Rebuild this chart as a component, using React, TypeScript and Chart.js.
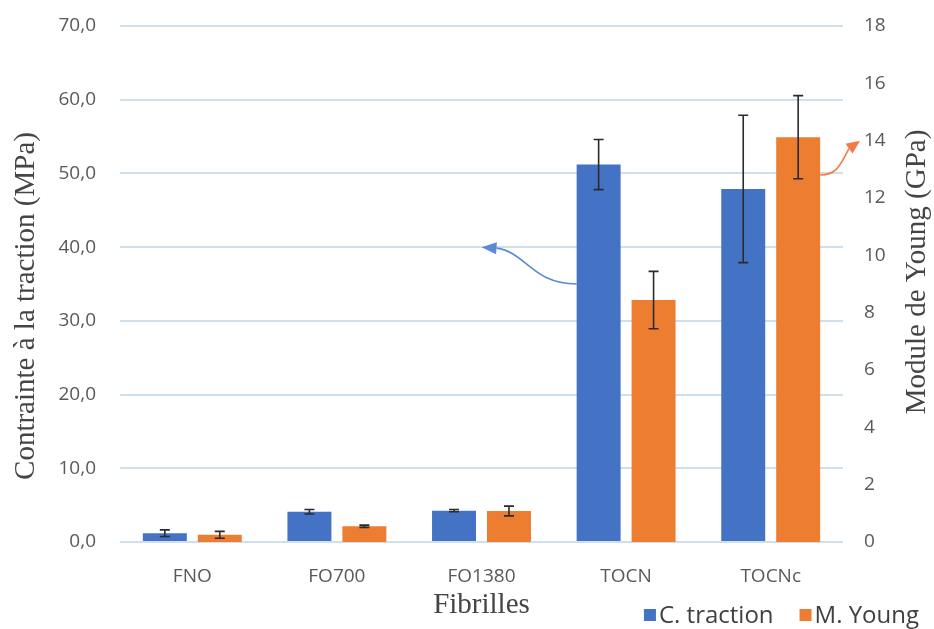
import React, { useEffect, useRef } from 'react';
import { Chart, registerables } from 'chart.js';

Chart.register(...registerables);

const categories = ['FNO', 'FO700', 'FO1380', 'TOCN', 'TOCNc'];
const tractionValues = [1.2, 4.1, 4.25, 51.2, 47.9];
const tractionErrors = [0.45, 0.3, 0.15, 3.4, 10.0];
const youngValues = [0.25, 0.55, 1.08, 8.44, 14.12];
const youngErrors = [0.12, 0.04, 0.17, 1.0, 1.45];
const seriesLabels = ['C. traction', 'M. Young'];
const seriesColors = ['#4472C4', '#ED7D31'];
const arrowColors = ['#5b8bd6', '#f07c45'];
const leftTitle = 'Contrainte à la traction (MPa)';
const rightTitle = 'Module de Young (GPa)';
const xTitle = 'Fibrilles';
// annotation arrows (values): blue arrow from TOCN bar at 35 MPa to 40 MPa; orange from TOCNc bar at 12.8 GPa to 14 GPa
const blueArrowFrom = 35;
const blueArrowTo = 40;
const orangeArrowFrom = 12.8;
const orangeArrowTo = 14;

const SANS = "'Open Sans', 'Noto Sans', sans-serif";
const SERIF = "'Liberation Serif', 'DejaVu Serif', serif";

const errorBarPlugin = {
  id: 'errorBars',
  afterDatasetsDraw(chart: any) {
    const ctx = chart.ctx;
    const errs = [tractionErrors, youngErrors];
    ctx.save();
    ctx.strokeStyle = '#2b2b2b';
    ctx.lineWidth = 1.6;
    chart.data.datasets.forEach((ds: any, i: number) => {
      const meta = chart.getDatasetMeta(i);
      const scale = chart.scales[ds.yAxisID];
      meta.data.forEach((el: any, j: number) => {
        const v = ds.data[j];
        const e = errs[i][j];
        const yt = scale.getPixelForValue(v + e);
        const yb = scale.getPixelForValue(Math.max(0, v - e));
        const x = el.x;
        const cw = 5;
        ctx.beginPath();
        ctx.moveTo(x, yt);
        ctx.lineTo(x, yb);
        ctx.moveTo(x - cw, yt);
        ctx.lineTo(x + cw, yt);
        ctx.moveTo(x - cw, yb);
        ctx.lineTo(x + cw, yb);
        ctx.stroke();
      });
    });
    ctx.restore();
  },
};

function drawArrow(ctx: any, sx: number, sy: number, c1x: number, c1y: number, c2x: number, c2y: number, bx: number, by: number, tx: number, ty: number, color: string) {
  ctx.save();
  ctx.strokeStyle = color;
  ctx.fillStyle = color;
  ctx.lineWidth = 1.6;
  ctx.beginPath();
  ctx.moveTo(sx, sy);
  ctx.bezierCurveTo(c1x, c1y, c2x, c2y, bx, by);
  ctx.stroke();
  const ang = Math.atan2(ty - by, tx - bx);
  const hw = 6;
  const px = -Math.sin(ang) * hw;
  const py = Math.cos(ang) * hw;
  ctx.beginPath();
  ctx.moveTo(tx, ty);
  ctx.lineTo(bx + px, by + py);
  ctx.lineTo(bx - px, by - py);
  ctx.closePath();
  ctx.fill();
  ctx.restore();
}

const annotationPlugin = {
  id: 'annotations',
  afterDraw(chart: any) {
    const ctx = chart.ctx;
    const { y, y1, x } = chart.scales;
    const area = chart.chartArea;
    // blue arrow
    const bBar = chart.getDatasetMeta(0).data[3];
    const sx = bBar.x - bBar.width / 2;
    const sy = y.getPixelForValue(blueArrowFrom);
    const tx = x.getPixelForValue(2);
    const ty = y.getPixelForValue(blueArrowTo);
    const bx = tx + 15;
    const by = ty + 1;
    drawArrow(ctx, sx, sy, sx - 45, sy, bx + 30, by + 4, bx, by, tx, ty, arrowColors[0]);
    // orange arrow
    const oBar = chart.getDatasetMeta(1).data[4];
    const ox = oBar.x + oBar.width / 2;
    const oy = y1.getPixelForValue(orangeArrowFrom);
    const otx = area.right + 17;
    const oty = y1.getPixelForValue(orangeArrowTo);
    const obx = otx - 11;
    const oby = oty + 8;
    drawArrow(ctx, ox, oy, ox + 18, oy, obx - 8, oby + 14, obx, oby, otx, oty, arrowColors[1]);

    // axis titles
    ctx.save();
    ctx.fillStyle = '#454545';
    ctx.font = `29px ${SERIF}`;
    ctx.textAlign = 'center';
    ctx.textBaseline = 'middle';
    ctx.fillText(xTitle, (area.left + area.right) / 2, 605);
    ctx.save();
    ctx.translate(26, 306);
    ctx.rotate(-Math.PI / 2);
    ctx.fillText(leftTitle, 0, 0);
    ctx.restore();
    ctx.save();
    ctx.translate(917, 272);
    ctx.rotate(-Math.PI / 2);
    ctx.fillText(rightTitle, 0, 0);
    ctx.restore();
    ctx.restore();

    // legend
    ctx.save();
    ctx.font = `24px ${SANS}`;
    ctx.textBaseline = 'middle';
    ctx.textAlign = 'left';
    const box = 12;
    const gapBox = 3;
    const gapItem = 26;
    const widths = seriesLabels.map((l) => ctx.measureText(l).width);
    let total = 0;
    widths.forEach((w, i) => {
      total += box + gapBox + w + (i < widths.length - 1 ? gapItem : 0);
    });
    let cx = 919 - total;
    const cy = 615;
    seriesLabels.forEach((l, i) => {
      ctx.fillStyle = seriesColors[i];
      ctx.fillRect(cx, cy - box / 2, box, box);
      cx += box + gapBox;
      ctx.fillStyle = '#404040';
      ctx.fillText(l, cx, cy + 1);
      cx += widths[i] + gapItem;
    });
    ctx.restore();
  },
};

export default function App() {
  const ref = useRef<HTMLCanvasElement | null>(null);
  useEffect(() => {
    document.body.style.margin = '0';
    const canvas = ref.current;
    if (!canvas) return;
    const tickFont = { family: SANS, size: 19 };
    const chart = new Chart(canvas, {
      type: 'bar',
      data: {
        labels: categories,
        datasets: [
          {
            label: seriesLabels[0],
            data: tractionValues,
            backgroundColor: seriesColors[0],
            yAxisID: 'y',
            categoryPercentage: 0.76,
            barPercentage: 0.8,
          },
          {
            label: seriesLabels[1],
            data: youngValues,
            backgroundColor: seriesColors[1],
            yAxisID: 'y1',
            categoryPercentage: 0.76,
            barPercentage: 0.8,
          },
        ],
      },
      options: {
        responsive: false,
        animation: false,
        devicePixelRatio: 1,
        layout: { padding: { top: 26, left: 0, right: 0, bottom: 0 } },
        plugins: {
          legend: { display: false },
          tooltip: { enabled: false },
        },
        scales: {
          x: {
            grid: { display: false },
            border: { display: false },
            ticks: { font: tickFont, color: '#595959', padding: 15 },
            afterFit: (s: any) => {
              s.height = 87;
              s.paddingLeft = 0;
              s.paddingRight = 0;
            },
          },
          y: {
            position: 'left',
            min: 0,
            max: 70,
            ticks: {
              stepSize: 10,
              font: tickFont,
              color: '#595959',
              padding: 24,
              callback: (v: any) => Number(v).toFixed(1).replace('.', ','),
            },
            grid: { color: '#cfdfec', lineWidth: 2, drawTicks: false },
            border: { display: false },
            afterFit: (s: any) => {
              s.width = 120;
              s.paddingTop = 0;
              s.paddingBottom = 0;
            },
          },
          y1: {
            position: 'right',
            min: 0,
            max: 18,
            ticks: { stepSize: 2, font: tickFont, color: '#595959', padding: 21 },
            grid: { display: false, drawTicks: false },
            border: { display: false },
            afterFit: (s: any) => {
              s.width = 91;
              s.paddingTop = 0;
              s.paddingBottom = 0;
            },
          },
        },
      },
      plugins: [errorBarPlugin, annotationPlugin],
    });
    return () => chart.destroy();
  }, []);
  return (
    <div style={{ width: 934, height: 629, background: '#fff' }}>
      <canvas ref={ref} width={934} height={629} />
    </div>
  );
}
